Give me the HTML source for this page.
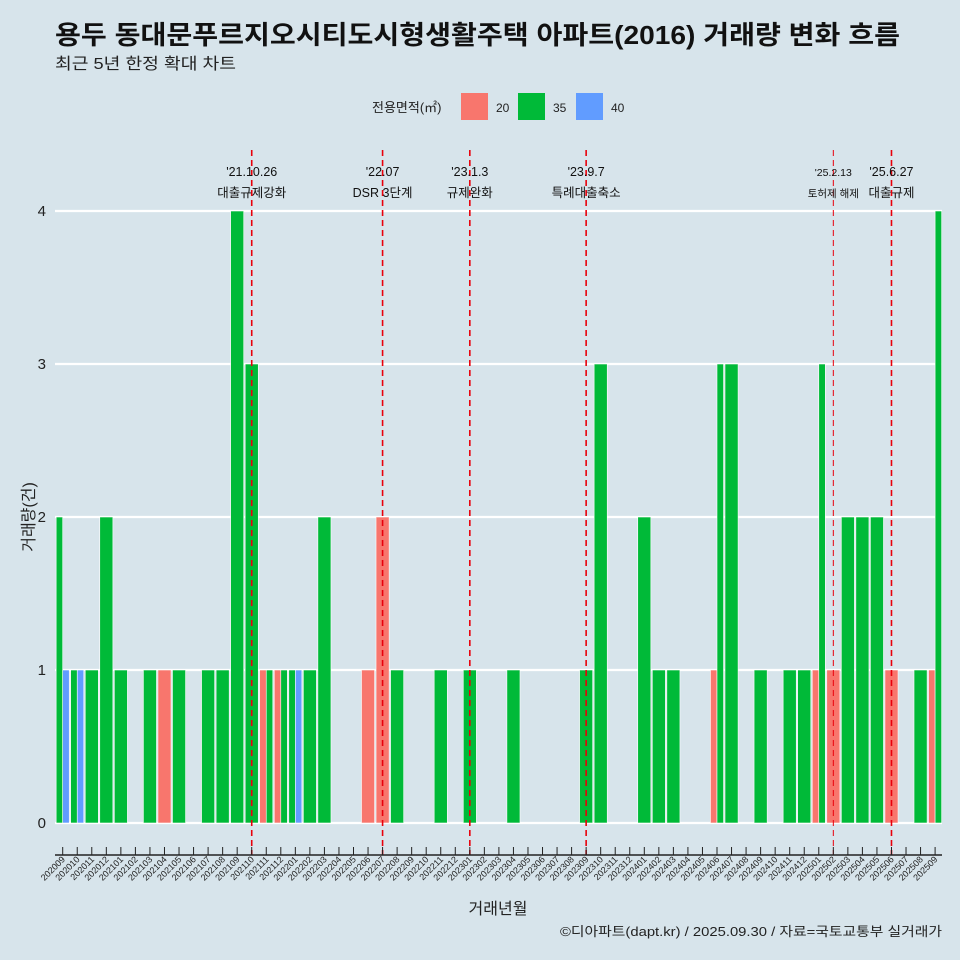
<!DOCTYPE html>
<html><head><meta charset="utf-8"><style>
body{margin:0;background:#d7e4eb;}
svg{display:block;font-family:"Liberation Sans","Noto Sans CJK KR",sans-serif;}
</style></head><body>
<svg id="c" width="960" height="960">
<rect width="960" height="960" fill="#d7e4eb"/>
<text x="55" y="44" font-size="26" font-weight="bold" fill="#111" textLength="845" lengthAdjust="spacingAndGlyphs">용두 동대문푸르지오시티도시형생활주택 아파트(2016) 거래량 변화 흐름</text>
<text x="55" y="69" font-size="16" fill="#222" textLength="181" lengthAdjust="spacingAndGlyphs">최근 5년 한정 확대 차트</text>
<g>
<text x="372" y="112" font-size="13" fill="#222">전용면적(㎡)</text>
<rect x="461" y="93" width="27" height="27" fill="#f8766d"/>
<text x="496" y="112" font-size="12" fill="#222">20</text>
<rect x="518" y="93" width="27" height="27" fill="#00ba38"/>
<text x="553" y="112" font-size="12" fill="#222">35</text>
<rect x="576" y="93" width="27" height="27" fill="#619cff"/>
<text x="611" y="112" font-size="12" fill="#222">40</text>
</g>
<text transform="translate(34,517) rotate(-90)" text-anchor="middle" font-size="16" fill="#222">거래량(건)</text>
<text x="498" y="914" text-anchor="middle" font-size="16" fill="#222">거래년월</text>
<text x="560" y="936" font-size="13" fill="#222" textLength="382" lengthAdjust="spacingAndGlyphs">©디아파트(dapt.kr) / 2025.09.30 / 자료=국토교통부 실거래가</text>
<g id="grid"></g><g id="bars"></g><g id="events"></g><g id="xaxis"></g>
</svg>
<script>
const months=[];for(let y=2020,m=9;!(y===2025&&m===10);){months.push(''+y+(m<10?'0':'')+m);m++;if(m>12){m=1;y++;}}
const area20={"202104":1,"202111":1,"202112":1,"202206":1,"202207":2,"202406":1,"202501":1,"202502":1,"202506":1,"202509":1};
const area35={"202009":2,"202010":1,"202011":1,"202012":2,"202101":1,"202103":1,"202105":1,"202107":1,"202108":1,"202109":4,"202110":3,"202111":1,"202112":1,"202201":1,"202202":1,"202203":2,"202208":1,"202211":1,"202301":1,"202304":1,"202309":1,"202310":3,"202401":2,"202402":1,"202403":1,"202406":3,"202407":3,"202409":1,"202411":1,"202412":1,"202501":3,"202503":2,"202504":2,"202505":2,"202508":1,"202509":4};
const area40={"202009":1,"202010":1,"202201":1};
const yTicks=[0,1,2,3,4];
const eventMonths=["202110","202207","202301","202309","202502","202506"];
const eventDates=["'21.10.26","'22.07","'23.1.3","'23.9.7","'25.2.13","'25.6.27"];
const eventTexts=["대출규제강화","DSR 3단계","규제완화","특례대출축소","토허제 해제","대출규제"];
const NS="http://www.w3.org/2000/svg";
const X0=62.7,STEP=14.54,Y0=823,YU=153,PL=55,PR=942;
const xs=i=>X0+i*STEP, ys=v=>Y0-v*YU;
function mk(p,tag,at){const e=document.createElementNS(NS,tag);for(const k in at)e.setAttribute(k,at[k]);document.getElementById(p).appendChild(e);return e;}
yTicks.forEach(t=>{
 const l=mk('grid','line',{x1:PL,x2:PR,y1:ys(t),y2:ys(t),stroke:'#fff','stroke-width':2.2});
 
 
 const tx=mk('grid','text',{x:46,y:ys(t)+5,'text-anchor':'end','font-size':15,fill:'#222'});tx.textContent=t;
 
 
});
const series=[[area20,'#f8766d','20'],[area35,'#00ba38','35'],[area40,'#619cff','40']];
const W=STEP*0.9;
months.forEach((m,i)=>{
 const present=series.filter(s=>s[0][m]);
 const n=present.length;if(!n)return;
 const w=W/n;
 present.forEach((s,j)=>{
  const v=s[0][m];const x=xs(i)-W/2+j*w;
  const r=mk('bars','rect',{x:x,y:ys(v),width:w,height:v*YU,fill:s[1],stroke:'#fff','stroke-width':0.6});
  
  
 });
});
mk('xaxis','line',{x1:PL,x2:PR,y1:855,y2:855,stroke:'#222','stroke-width':1.5});
months.forEach((m,i)=>{
 mk('xaxis','line',{x1:xs(i),x2:xs(i),y1:847,y2:855,stroke:'#222','stroke-width':1});
 const tx=mk('xaxis','text',{transform:`translate(${xs(i)+3},860) rotate(-45)`,'text-anchor':'end','font-size':9,fill:'#222'});tx.textContent=m;
 
 
});
eventMonths.forEach((m,k)=>{
 const x=xs(months.indexOf(m));const small=m==='202502';
 const l=mk('events','line',{x1:x,x2:x,y1:150,y2:855,stroke:'#e8000b','stroke-width':small?1:1.6,'stroke-dasharray':'6,4'});
 
 
 const fs=small?10.5:12.5;
 const a=mk('events','text',{x:x,y:176,'text-anchor':'middle','font-size':fs,fill:'#111'});a.textContent=eventDates[k];
 
 
 const b=mk('events','text',{x:x,y:197,'text-anchor':'middle','font-size':fs,fill:'#111'});b.textContent=eventTexts[k];
 
 
});
</script>
</body></html>
